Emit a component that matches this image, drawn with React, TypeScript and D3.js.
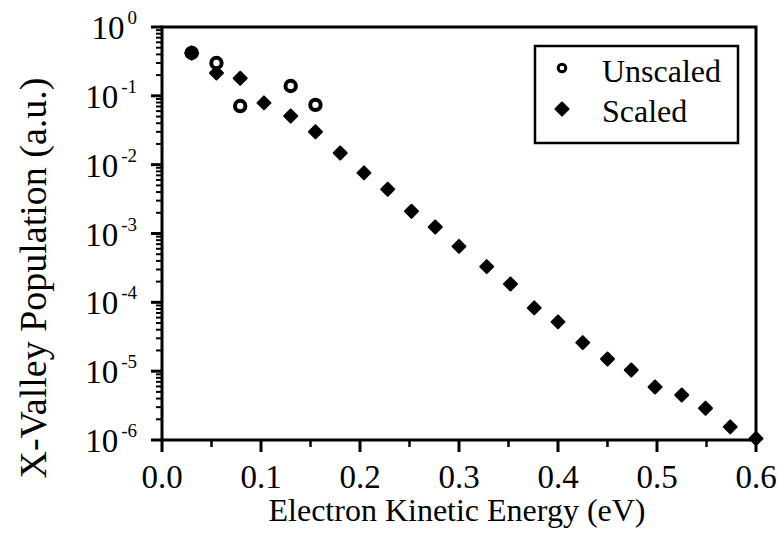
import React from "react";
import * as d3 from "d3";

const energy = [0.03, 0.055, 0.079, 0.103, 0.13, 0.155, 0.18, 0.204, 0.228, 0.252, 0.276, 0.3, 0.328, 0.352, 0.376, 0.4, 0.425, 0.45, 0.474, 0.498, 0.525, 0.549, 0.574, 0.6];
const scaled = [0.42, 0.215, 0.18, 0.079, 0.051, 0.030, 0.0148, 0.0076, 0.0044, 0.0021, 0.00124, 0.00065, 3.3e-4, 1.85e-4, 8.3e-5, 5.2e-5, 2.6e-5, 1.5e-5, 1.04e-5, 5.9e-6, 4.5e-6, 2.9e-6, 1.55e-6, 1.05e-6];
const unscaledEnergy = [0.03, 0.055, 0.079, 0.13, 0.155];
const unscaled = [0.42, 0.30, 0.071, 0.139, 0.074];

const xMajorTicks = [0, 0.1, 0.2, 0.3, 0.4, 0.5, 0.6];
const xMinorTicks = [0.05, 0.15, 0.25, 0.35, 0.45, 0.55];
const xTickLabels = ["0.0", "0.1", "0.2", "0.3", "0.4", "0.5", "0.6"];
const yExponents = [0, -1, -2, -3, -4, -5, -6];

const xTitle = "Electron Kinetic Energy (eV)";
const yTitle = "X-Valley Population (a.u.)";
const legendLabels = ["Unscaled", "Scaled"];

const W = 778, H = 537;
const L = 162, R = 756, T = 27, B = 440;
const FONT = "'Liberation Serif', 'Times New Roman', serif";

const x = d3.scaleLinear().domain([0, 0.6]).range([L, R]);
const y = d3.scaleLog().domain([1e-6, 1]).range([B, T]);

function diamondPath(cx: number, cy: number, r: number) {
  return `M${cx},${cy - r}L${cx + r},${cy}L${cx},${cy + r}L${cx - r},${cy}Z`;
}

export default function App() {
  const minorY: number[] = [];
  for (let e = -6; e < 0; e++) {
    for (let k = 2; k <= 9; k++) minorY.push(k * Math.pow(10, e));
  }
  return (
    <svg width={W} height={H} style={{ position: "absolute", left: 0, top: 0, background: "#fff" }} fontFamily={FONT}>
      <rect x={0} y={0} width={W} height={H} fill="#fff" />
      <rect x={L} y={T} width={R - L} height={B - T} fill="none" stroke="#000" strokeWidth={3} />
      {xMajorTicks.map((t, i) => (
        <line key={"xm" + i} x1={x(t)} x2={x(t)} y1={B} y2={B + 12} stroke="#000" strokeWidth={3} />
      ))}
      {xMinorTicks.map((t, i) => (
        <line key={"xn" + i} x1={x(t)} x2={x(t)} y1={B} y2={B + 7} stroke="#000" strokeWidth={2.5} />
      ))}
      {xMajorTicks.map((t, i) => (
        <text key={"xl" + i} x={x(t)} y={488} fontSize={33} textAnchor="middle" fill="#000">{xTickLabels[i]}</text>
      ))}
      {yExponents.map((e, i) => (
        <line key={"ym" + i} x1={L - 11} x2={L} y1={y(Math.pow(10, e))} y2={y(Math.pow(10, e))} stroke="#000" strokeWidth={3} />
      ))}
      {minorY.map((v, i) => (
        <line key={"yn" + i} x1={L - 6} x2={L} y1={y(v)} y2={y(v)} stroke="#000" strokeWidth={2} />
      ))}
      {yExponents.map((e, i) => (
        <text key={"yl" + i} x={137} y={y(Math.pow(10, e)) + 12} fontSize={33} textAnchor="end" fill="#000">
          10<tspan dx={3} dy={-15} fontSize={19}>{e === 0 ? "0" : "-" + Math.abs(e)}</tspan>
        </text>
      ))}
      <text x={(L + R) / 2 - 2} y={521} fontSize={32} textAnchor="middle" fill="#000">{xTitle}</text>
      <text transform={`translate(46,${278}) rotate(-90)`} fontSize={38} textAnchor="middle" fill="#000">{yTitle}</text>
      {energy.map((e, i) => (
        <path key={"s" + i} d={diamondPath(x(e), y(scaled[i]), 6.5)} fill="#000" stroke="#000" strokeWidth={2} strokeLinejoin="round" />
      ))}
      {unscaledEnergy.map((e, i) => (
        <circle key={"u" + i} cx={x(e)} cy={y(unscaled[i])} r={5.2} fill="#fff" fillOpacity={i === 0 ? 0 : 1} stroke="#000" strokeWidth={4} />
      ))}
      <rect x={535} y={46} width={203} height={97} fill="#fff" stroke="#000" strokeWidth={2.5} />
      <circle cx={562} cy={68} r={3.8} fill="#fff" stroke="#000" strokeWidth={3} />
      <text x={602} y={82} fontSize={32} fill="#000">{legendLabels[0]}</text>
      <path d={diamondPath(562, 109, 6.5)} fill="#000" stroke="#000" strokeWidth={2} strokeLinejoin="round" />
      <text x={602} y={122} fontSize={32} fill="#000">{legendLabels[1]}</text>
    </svg>
  );
}
